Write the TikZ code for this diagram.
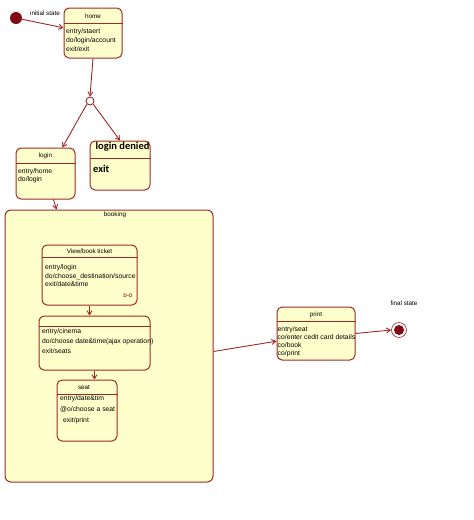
\documentclass[tikz,border=0pt]{standalone}
\usepackage{fontspec}
\setmainfont{Liberation Sans}
\newfontfamily\calibrifont{Carlito}
\usetikzlibrary{positioning, arrows.meta, calc}

\definecolor{umlred}{RGB}{160,40,40}
\definecolor{umlfill}{RGB}{255,255,204}
\definecolor{umldot}{RGB}{130,10,20}

\begin{document}
\begin{tikzpicture}[
    x=1pt, y=-1pt,
    state/.style={
      rectangle, draw=umlred, line width=1pt, rounded corners=5pt,
      fill=umlfill, inner sep=0pt,
    },
    divider/.style={draw=umlred, line width=1pt},
    title/.style={font=\fontsize{6.3}{7}\selectfont, inner sep=0pt},
    body/.style={font=\fontsize{6.8}{8}\selectfont, align=left, anchor=north west, inner sep=0pt},
    label/.style={font=\fontsize{6.3}{7}\selectfont, inner sep=0pt},
    bigbold/.style={font=\calibrifont\bfseries\fontsize{10.5}{11}\selectfont, inner sep=0pt},
    trans/.style={-{Straight Barb[length=4pt, width=5pt]}, draw=umlred, line width=0.9pt},
]
\useasboundingbox (0,0) rectangle (474,520);

% Initial state and home
\node[circle, fill=umldot, minimum size=12pt, inner sep=0pt] (init) at (16,18) {};
\node[label] (initlabel) at (45,13) {initial state};
\node[state, minimum width=58pt, minimum height=50pt] (home) at (93,33) {};
\draw[divider] ($(home.north west)+(0,16)$) -- ($(home.north east)+(0,16)$);
\node[title] (hometitle) at (93,16) {home};
\node[body, font=\fontsize{6.8}{9}\selectfont] (homebody) at (66,28.5) {entry/staert\\do/login/account\\exit/exit};
\draw[trans] (init) -- (home.170);

% Choice point
\node[circle, draw=umlred, fill=white, line width=0.9pt, minimum size=8pt, inner sep=0pt] (choice) at (90,101) {};
\draw[trans] (home.south) -- (choice.north);

% login and login denied
\node[state, minimum width=59pt, minimum height=51pt] (login) at (45.5,173.5) {};
\draw[divider] ($(login.north west)+(0,16)$) -- ($(login.north east)+(0,16)$);
\node[title] (logintitle) at (45.5,156) {login};
\node[body] (loginbody) at (18,168.5) {entry/home\\do/login};

\node[state, minimum width=60pt, minimum height=49pt] (denied) at (120,165.5) {};
\draw[divider] ($(denied.north west)+(0,18)$) -- ($(denied.north east)+(0,18)$);
\node[bigbold] (deniedtitle) at (122.5,147) {login denied};
\node[bigbold, anchor=west] (deniedbody) at (93,169) {exit};

\draw[trans] (choice.south west) -- (login.57);
\draw[trans] (choice.south east) -- (denied.north);

% booking composite state
\node[state, rounded corners=6pt, minimum width=208pt, minimum height=272pt] (booking) at (109,346) {};
\node[title] (bookingtitle) at (115,215) {booking};
\draw[trans] (login.-73) -- (booking.111);

\node[state, minimum width=95pt, minimum height=60pt] (viewbook) at (89.5,275) {};
\draw[divider] ($(viewbook.north west)+(0,13)$) -- ($(viewbook.north east)+(0,13)$);
\node[title] (viewtitle) at (89.5,251.5) {View/book ticket};
\node[body, font=\fontsize{6.8}{8.5}\selectfont] (viewbody) at (45,264.5) {entry/login\\do/choose\_destination/source\\exit/date\&time};
\node[title, font=\bfseries\fontsize{5}{6}\selectfont, text=umlred] (viewmark) at (128,296) {D-O};

\node[state, minimum width=111pt, minimum height=54pt] (cinema) at (94.5,343) {};
\draw[divider] ($(cinema.north west)+(0,11)$) -- ($(cinema.north east)+(0,11)$);
\node[body, font=\fontsize{6.8}{10}\selectfont] (cinemabody) at (42,328.5) {entry/cinema\\do/choose date\&time(ajax operation)\\exit/seats};

\node[state, minimum width=60pt, minimum height=61pt] (seat) at (87,410.5) {};
\draw[divider] ($(seat.north west)+(0,15)$) -- ($(seat.north east)+(0,15)$);
\node[title] (seattitle) at (84,387) {seat};
\node[body, font=\fontsize{6.8}{11}\selectfont] (seatbody) at (60,395.5) {entry/date\&tim\\@o/choose a seat\\\hspace{3pt}exit/print};

\draw[trans] (viewbook.south) -- (viewbook.south |- cinema.north);
\draw[trans] (cinema.south) -- (cinema.south |- seat.north);

% print and final state
\node[state, minimum width=78pt, minimum height=53pt] (print) at (316,333.5) {};
\draw[divider] ($(print.north west)+(0,15)$) -- ($(print.north east)+(0,15)$);
\node[title] (printtitle) at (316,314.5) {print};
\node[body] (printbody) at (277.5,326.5) {entry/seat\\co/enter cedit card details\\co/book\\co/print};

\node[circle, draw=umlred, fill=white, line width=0.6pt, minimum size=15pt, inner sep=0pt] (final) at (399,330) {};
\node[circle, fill=umldot, minimum size=10pt, inner sep=0pt] (finaldot) at (final.center) {};
\node[label] (finallabel) at (404,303) {final state};

\draw[trans] (booking.-3) -- (print.191);
\draw[trans] (print.east) -- (final.west);
\end{tikzpicture}
\end{document}
